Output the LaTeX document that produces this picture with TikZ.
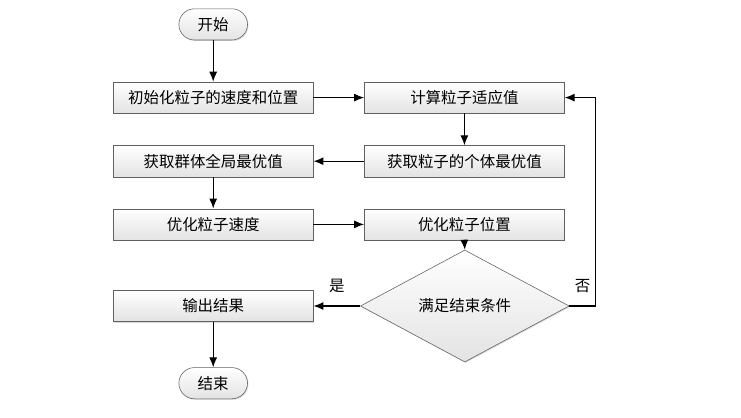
\documentclass[tikz,border=0pt]{standalone}
\usepackage{fontspec}
\setmainfont{Noto Sans CJK SC}
\usepackage{tikz}
\usetikzlibrary{shapes, shapes.geometric, arrows, arrows.meta, shadows}

\begin{document}
\begin{tikzpicture}[
    stepWidth/.style={minimum width=5cm},
    stepHeight/.style={minimum height=0.78cm},
    boxLook/.style={draw=gray!75!black, top color=white, bottom color=gray!22,
        drop shadow={shadow xshift=0.7pt, shadow yshift=-0.7pt, fill=gray!55}},
    stepBox/.style={boxLook, rectangle, stepWidth, stepHeight},
    endBox/.style={boxLook, rounded rectangle, minimum width=1.95cm, minimum height=0.78cm},
    decideBox/.style={boxLook, diamond, minimum width=5.22cm, minimum height=2.8cm, inner sep=0pt},
    flow/.style={->, >={Latex[length=2.5mm, width=2mm]}, line width=0.8pt},
    every node/.style={
        text centered,
        font=\fontsize{11pt}{13pt}\selectfont,
        }
        ]
    \useasboundingbox (0, 0) rectangle (18.525, -10.45);

    \node[endBox] (start) at (5.33, -0.61) {开始};
    \node[stepBox] (init) at (5.33, -2.44) {初始化粒子的速度和位置};
    \node[stepBox] (fitness) at (11.61, -2.44) {计算粒子适应值};
    \node[stepBox] (pbest) at (11.61, -4.03) {获取粒子的个体最优值};
    \node[stepBox] (gbest) at (5.33, -4.03) {获取群体全局最优值};
    \node[stepBox] (velocity) at (5.33, -5.61) {优化粒子速度};
    \node[stepBox] (position) at (11.61, -5.61) {优化粒子位置};
    \node[decideBox] (check) at (11.62, -7.65) {满足结束条件};
    \node[stepBox] (output) at (5.33, -7.65) {输出结果};
    \node[endBox] (stop) at (5.33, -9.58) {结束};

    \draw[flow] (start.south) -- (init.north);
    \draw[flow] (init.east) -- (fitness.west);
    \draw[flow] (fitness.south) -- (pbest.north);
    \draw[flow] (pbest.west) -- (gbest.east);
    \draw[flow] (gbest.south) -- (velocity.north);
    \draw[flow] (velocity.east) -- (position.west);
    \draw[flow] (position.south) -- (check.north);
    \draw[flow] (check.west) -- node[above=6pt] {是} (output.east);
    \draw[flow] (check.east) -- node[above=6pt] {否} ++(0.65, 0) |- (fitness.east);
    \draw[flow] (output.south) -- (stop.north);
\end{tikzpicture}
\end{document}
